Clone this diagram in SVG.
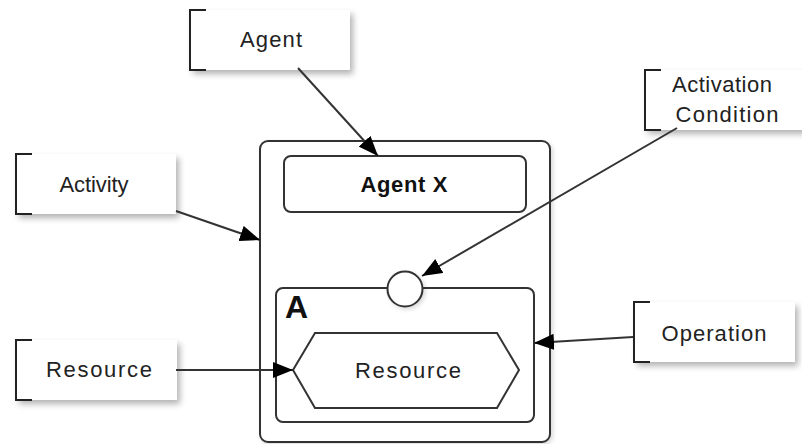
<svg xmlns="http://www.w3.org/2000/svg" width="802" height="444" viewBox="0 0 802 444">
  <defs>
    <filter id="shadow" x="-10%" y="-20%" width="130%" height="160%">
      <feDropShadow dx="3" dy="4" stdDeviation="3" flood-color="#000" flood-opacity="0.3"/>
    </filter>
    <filter id="soft" x="-10%" y="-10%" width="130%" height="130%">
      <feDropShadow dx="2" dy="2" stdDeviation="2" flood-color="#000" flood-opacity="0.15"/>
    </filter>
    <marker id="arrow" markerUnits="userSpaceOnUse" markerWidth="20" markerHeight="16" refX="20" refY="8" orient="auto">
      <path d="M0,0 L20,8 L0,16 z" fill="#000"/>
    </marker>
  </defs>
  <style>
    .note { fill: #ffffff; filter: url(#shadow); }
    .bracket { fill: none; stroke: #222; stroke-width: 2; }
    .label { font-family: "Liberation Sans", Arial, sans-serif; font-size: 22px; fill: #222; text-anchor: middle; }
    .box { fill: #ffffff; stroke: #333; stroke-width: 2; }
    .bold { font-family: "Liberation Sans", Arial, sans-serif; font-weight: bold; fill: #111; }
    .conn { fill: none; stroke: #333; stroke-width: 2; marker-end: url(#arrow); }
  </style>

  <g id="activity-container">
    <rect class="box" x="260" y="141" width="290" height="301" rx="8" filter="url(#soft)"/>
  </g>
  <g id="agent-x">
    <rect class="box" x="284" y="156" width="242" height="56" rx="7"/>
    <text class="bold" x="404" y="192" font-size="22" text-anchor="middle" textLength="87">Agent X</text>
  </g>
  <g id="operation-a">
    <rect class="box" x="276" y="288" width="258" height="134" rx="7"/>
    <text class="bold" x="285" y="318" font-size="32">A</text>
  </g>
  <g id="activation-circle">
    <circle class="box" cx="405" cy="289" r="17.5" filter="url(#soft)"/>
  </g>
  <g id="resource-hex">
    <polygon class="box" points="293,370 315,333 497,333 519,370 497,408 315,408"/>
    <text class="label" x="408" y="378" textLength="106">Resource</text>
  </g>

  <g id="note-agent">
    <rect class="note" x="190" y="10" width="160" height="60"/>
    <path class="bracket" d="M206,10 H190 V70 H206"/>
    <text class="label" x="271" y="47" textLength="62">Agent</text>
  </g>
  <g id="note-activation">
    <rect class="note" x="645" y="70" width="165" height="60"/>
    <path class="bracket" d="M661,70 H645 V130 H661"/>
    <text class="label" x="722" y="92" textLength="100">Activation</text>
    <text class="label" x="727" y="122" textLength="103">Condition</text>
  </g>
  <g id="note-activity">
    <rect class="note" x="16" y="154" width="160" height="60"/>
    <path class="bracket" d="M32,154 H16 V214 H32"/>
    <text class="label" x="94" y="192" textLength="69">Activity</text>
  </g>
  <g id="note-resource">
    <rect class="note" x="16" y="340" width="161" height="60"/>
    <path class="bracket" d="M32,340 H16 V400 H32"/>
    <text class="label" x="99" y="377" textLength="106">Resource</text>
  </g>
  <g id="note-operation">
    <rect class="note" x="634" y="302" width="161" height="60"/>
    <path class="bracket" d="M650,302 H634 V362 H650"/>
    <text class="label" x="714" y="341" textLength="105">Operation</text>
  </g>

  <g id="connectors">
    <line class="conn" x1="298" y1="68" x2="378" y2="156"/>
    <line class="conn" x1="176" y1="211" x2="260" y2="240"/>
    <line class="conn" x1="677" y1="128" x2="422" y2="276"/>
    <line class="conn" x1="176" y1="370" x2="293" y2="370"/>
    <line class="conn" x1="633" y1="337" x2="534" y2="343"/>
  </g>
</svg>
